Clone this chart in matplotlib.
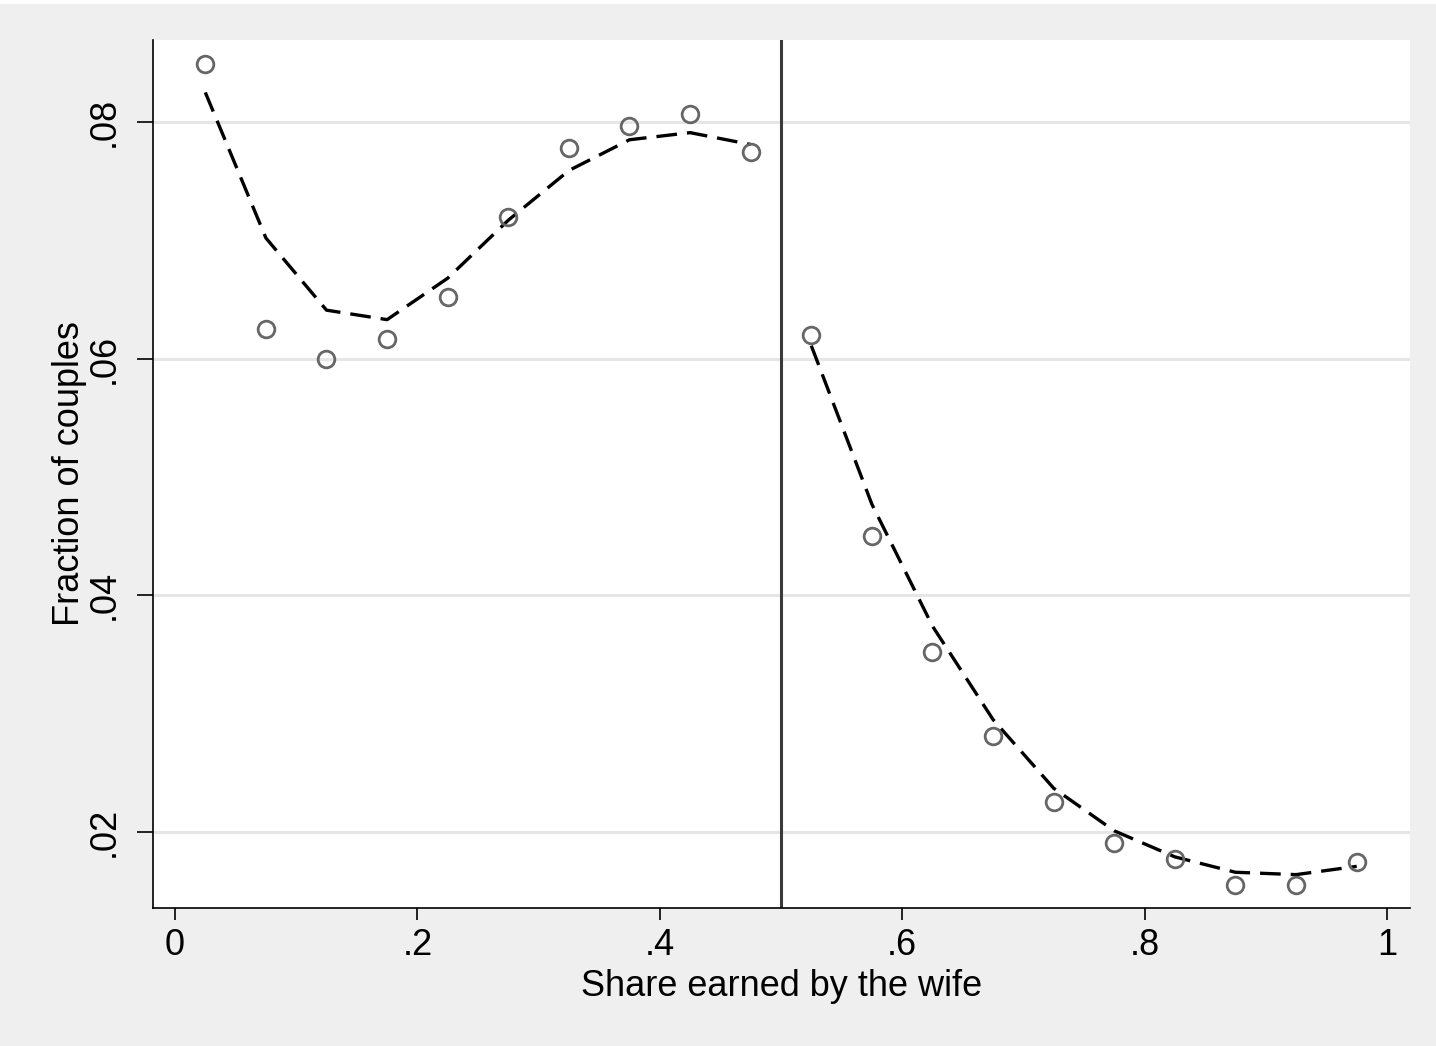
import matplotlib.pyplot as plt
from matplotlib.patches import Rectangle

plt.rcParams['font.family'] = ['Liberation Sans', 'DejaVu Sans']

# Bin midpoints of the wife's share of couple earnings
share_left = [0.025, 0.075, 0.125, 0.175, 0.225, 0.275, 0.325, 0.375, 0.425, 0.475]
share_right = [0.525, 0.575, 0.625, 0.675, 0.725, 0.775, 0.825, 0.875, 0.925, 0.975]

# Observed fraction of couples in each bin
frac_left = [0.0849, 0.0625, 0.0600, 0.0617, 0.0652, 0.0720, 0.0778, 0.0797, 0.0807, 0.0775]
frac_right = [0.0620, 0.0450, 0.0352, 0.0281, 0.0225, 0.0191, 0.0177, 0.0155, 0.0155, 0.0175]

# Fitted values, estimated separately on each side of 0.5
fit_left = [0.0825, 0.0702, 0.0641, 0.0633, 0.0668, 0.0717, 0.0759, 0.0785, 0.0791, 0.0781]
fit_right = [0.0611, 0.0477, 0.0374, 0.0295, 0.0237, 0.0201, 0.0179, 0.0166, 0.0164, 0.0171]

xticks = [0, 0.2, 0.4, 0.6, 0.8, 1.0]
xtick_labels = ['0', '.2', '.4', '.6', '.8', '1']
yticks = [0.02, 0.04, 0.06, 0.08]
ytick_labels = ['.02', '.04', '.06', '.08']

bg = '#efefef'
fig = plt.figure(figsize=(14.36, 10.46), dpi=100, facecolor=bg)
fig.patches.append(Rectangle((0, 1 - 4 / 1046), 1, 4 / 1046, transform=fig.transFigure,
                             facecolor='white', edgecolor='none', zorder=0))
ax = fig.add_axes([153 / 1436, 138 / 1046, 1257 / 1436, 868 / 1046])
ax.set_facecolor('white')

# horizontal grid
for y in yticks:
    ax.axhline(y, color='#e6e6e6', lw=2.2, zorder=1)

# cutoff at equal earnings
ax.axvline(0.5, color='#3a3a3a', lw=2.2, zorder=2)

marker_kw = dict(ls='none', marker='o', ms=12, mfc='none', mec='#666666', mew=2.0, zorder=4)
line_kw = dict(color='black', lw=2.4, dashes=(6.2, 3.0), zorder=3)
ax.plot(share_left, frac_left, **marker_kw)
ax.plot(share_right, frac_right, **marker_kw)
ax.plot(share_left, fit_left, **line_kw)
ax.plot(share_right, fit_right, **line_kw)

ax.set_xlim(-0.01815, 1.019)
ax.set_ylim(0.01358, 0.08693)

for side in ['top', 'right']:
    ax.spines[side].set_visible(False)
for side in ['left', 'bottom']:
    ax.spines[side].set_linewidth(1.2)
    ax.spines[side].set_color('black')

ax.set_xticks(xticks)
ax.set_xticklabels(xtick_labels)
ax.set_yticks(yticks)
ax.set_yticklabels(ytick_labels, rotation=90, va='center')
ax.tick_params(axis='x', length=8.6, width=1.2, pad=6, labelsize=26)
ax.tick_params(axis='y', length=11.5, width=1.2, pad=11, labelsize=26)

ax.set_xlabel('Share earned by the wife', fontsize=26, labelpad=4)
ax.set_ylabel('Fraction of couples', fontsize=26, labelpad=0)

fig.savefig('out.png', dpi=100, facecolor=bg)
